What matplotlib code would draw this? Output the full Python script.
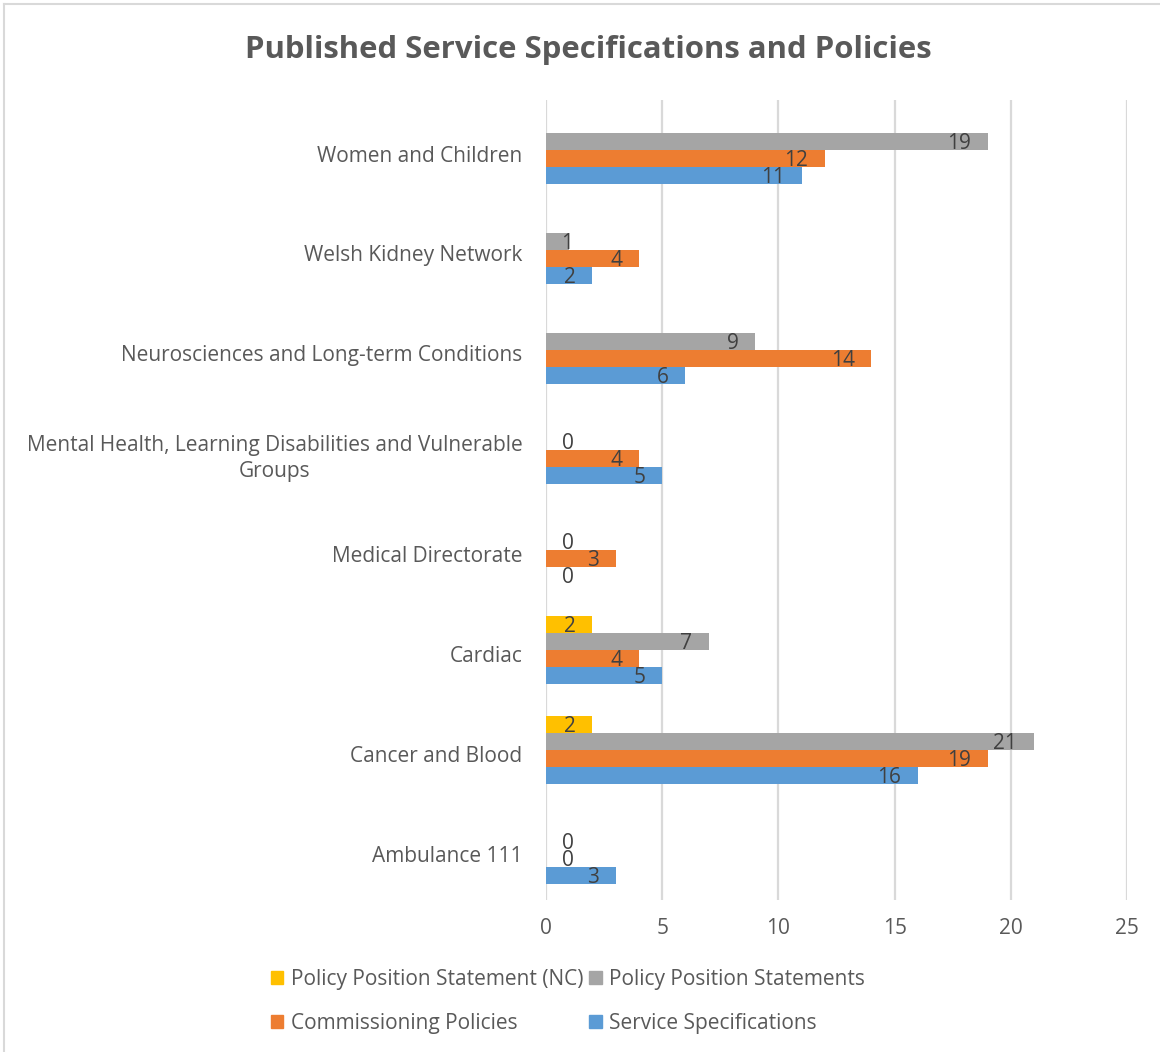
import numpy as np
import matplotlib
matplotlib.use('Agg')
import matplotlib.pyplot as plt
from matplotlib.patches import Patch
from matplotlib.lines import Line2D

plt.rcParams['font.family'] = ['Open Sans', 'DejaVu Sans']

categories = ['Ambulance 111', 'Cancer and Blood', 'Cardiac', 'Medical Directorate',
              'Mental Health, Learning Disabilities and Vulnerable\nGroups',
              'Neurosciences and Long-term Conditions', 'Welsh Kidney Network',
              'Women and Children']
service_specs = [3, 16, 5, 0, 5, 6, 2, 11]
commissioning = [0, 19, 4, 3, 4, 14, 4, 12]
position_statements = [0, 21, 7, 0, 0, 9, 1, 19]
position_nc = [np.nan, 2, 2, np.nan, np.nan, np.nan, np.nan, np.nan]

series = [
    ('Service Specifications', service_specs, '#5B9BD5'),
    ('Commissioning Policies', commissioning, '#ED7D31'),
    ('Policy Position Statements', position_statements, '#A5A5A5'),
    ('Policy Position Statement (NC)', position_nc, '#FFC000'),
]

txt = '#595959'
lbl = '#404040'
fs = 15

fig = plt.figure(figsize=(11.6, 10.52), dpi=100)
ax = fig.add_axes([546 / 1160, 152 / 1052, 581 / 1160, 800 / 1052])

h = 0.17
offsets = [-1.5 * h, -0.5 * h, 0.5 * h, 1.5 * h]
ypos = np.arange(len(categories))
for (name, vals, col), off in zip(series, offsets):
    vals = np.array(vals, dtype=float)
    ax.barh(ypos + off, np.nan_to_num(vals), height=h, color=col, zorder=2)
    for y, v in zip(ypos, vals):
        if np.isnan(v):
            continue
        ax.annotate('%d' % v, xy=(max(v, 1.9), y + off), xytext=(-12, -1.5),
                    textcoords='offset points', ha='right', va='center',
                    fontsize=fs, color=lbl, zorder=3)

ax.set_xlim(0, 25)
ax.set_ylim(-0.5, len(categories) - 0.5)
ax.set_xticks([0, 5, 10, 15, 20, 25])
# labels sit a touch below the group centre, as in the original
ax.set_yticks(ypos - 0.035)
ax.set_yticklabels(categories, multialignment='center', linespacing=1.3)
ax.xaxis.grid(True, color='#D9D9D9', linewidth=1.6, zorder=0)
ax.set_axisbelow(True)
for s in ax.spines.values():
    s.set_visible(False)
ax.tick_params(axis='both', length=0, labelsize=fs, labelcolor=txt)
ax.tick_params(axis='x', pad=13)
ax.tick_params(axis='y', pad=17)

fig.text(588 / 1160, 1 - 50 / 1052, 'Published Service Specifications and Policies',
         ha='center', va='center', fontsize=22.4, fontweight='bold', color=txt)

handles = [Patch(color=c) for _, _, c in series]
names = [n for n, _, _ in series]
order = [3, 1, 2, 0]
leg = fig.legend([handles[i] for i in order], [names[i] for i in order],
                 ncol=2, loc='upper left', bbox_to_anchor=(252 / 1160, 1 - 950 / 1052),
                 frameon=False, fontsize=fs, handlelength=0.6, handleheight=0.6,
                 handletextpad=0.35, columnspacing=0.3, labelspacing=1.1,
                 labelcolor=txt)

# chart area border (top and left edges visible)
fig.add_artist(Line2D([4 / 1160, 1], [1 - 4 / 1052, 1 - 4 / 1052], color='#D9D9D9', lw=1.5))
fig.add_artist(Line2D([4 / 1160, 4 / 1160], [0, 1 - 4 / 1052], color='#D9D9D9', lw=1.5))

fig.savefig('out.png', dpi=100, facecolor='white')
